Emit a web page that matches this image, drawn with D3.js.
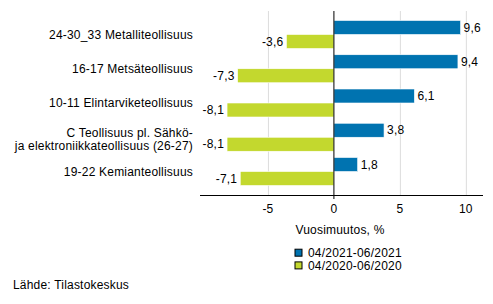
<!DOCTYPE html>
<html>
<head>
<meta charset="utf-8">
<script src="https://cdn.jsdelivr.net/npm/d3@7"></script>
<style>
  body { margin: 0; background: #fff; }
  text { font-family: "Liberation Sans", Arial, sans-serif; font-size: 12px; letter-spacing: 0.2px; fill: #000; }
</style>
</head>
<body>
<div id="canvas"></div>
<script>
const categories = [
  ["24-30_33 Metalliteollisuus"],
  ["16-17 Metsäteollisuus"],
  ["10-11 Elintarviketeollisuus"],
  ["C Teollisuus pl. Sähkö-", "ja elektroniikkateollisuus (26-27)"],
  ["19-22 Kemianteollisuus"]
];
const series2021 = [9.6, 9.4, 6.1, 3.8, 1.8];
const series2020 = [-3.6, -7.3, -8.1, -8.1, -7.1];
const seriesNames = ["04/2021-06/2021", "04/2020-06/2020"];
const colors = ["#0073b0", "#c3d82e"];
const tickValues = [-5, 0, 5, 10];

const width = 493, height = 304;
const svg = d3.select("#canvas").append("svg")
  .attr("width", width).attr("height", height);

const x = d3.scaleLinear().domain([-10.15, 11.3]).range([200, 483]);
const y = d3.scaleBand()
  .domain(d3.range(categories.length))
  .range([11, 195])
  .paddingInner(0.1825)
  .paddingOuter(0.277);
const sub = d3.scaleBand().domain([0, 1]).range([0, y.bandwidth()]);

const fmt = v => String(v.toFixed(1)).replace(".", ",");

// gridlines
svg.append("g").selectAll("line")
  .data(tickValues.filter(t => t !== 0))
  .enter().append("line")
  .attr("x1", d => x(d) + 0.5).attr("x2", d => x(d) + 0.5)
  .attr("y1", 11).attr("y2", 195)
  .attr("stroke", "#dcdcdc").attr("stroke-width", 1);

const rows = categories.map((c, i) => ({ i, vals: [series2021[i], series2020[i]] }));

const g = svg.append("g");
rows.forEach(r => {
  r.vals.forEach((v, s) => {
    const yy = y(r.i) + sub(s);
    g.append("rect")
      .attr("x", Math.min(x(0), x(v)))
      .attr("y", yy)
      .attr("width", Math.abs(x(v) - x(0)))
      .attr("height", sub.bandwidth())
      .attr("fill", colors[s])
      .attr("stroke", "#fff").attr("stroke-width", 0.6);
    g.append("text")
      .attr("x", v >= 0 ? x(v) + 3 : x(v) - 3)
      .attr("y", yy + sub.bandwidth() / 2)
      .attr("dy", "0.35em")
      .attr("text-anchor", v >= 0 ? "start" : "end")
      .text(fmt(v));
  });
});

// category labels
rows.forEach(r => {
  const lines = categories[r.i];
  const cy = y(r.i) + y.bandwidth() / 2 + (lines.length > 1 ? 2 : 0);
  const lh = 13.5;
  lines.forEach((l, k) => {
    svg.append("text")
      .attr("x", 193)
      .attr("y", cy + (k - (lines.length - 1) / 2) * lh)
      .attr("dy", "0.35em")
      .attr("text-anchor", "end")
      .text(l);
  });
});

// zero line and x axis
svg.append("line")
  .attr("x1", x(0)).attr("x2", x(0))
  .attr("y1", 11).attr("y2", 199)
  .attr("stroke", "#000").attr("stroke-width", 1);
svg.append("line")
  .attr("x1", 200).attr("x2", 483)
  .attr("y1", 195.5).attr("y2", 195.5)
  .attr("stroke", "#000").attr("stroke-width", 1);

svg.append("g").selectAll("text")
  .data(tickValues)
  .enter().append("text")
  .attr("x", d => x(d))
  .attr("y", 208.5)
  .attr("dy", "0.35em")
  .attr("text-anchor", "middle")
  .text(d => d);

svg.append("text")
  .attr("x", 340).attr("y", 229.5).attr("dy", "0.35em")
  .attr("text-anchor", "middle")
  .text("Vuosimuutos, %");

// legend
const leg = svg.append("g");
seriesNames.forEach((n, i) => {
  const ly = 252.7 + i * 12.7;
  leg.append("rect")
    .attr("x", 295).attr("y", ly - 3.5)
    .attr("width", 7).attr("height", 7)
    .attr("fill", colors[i]).attr("stroke", "#000").attr("stroke-width", 1);
  leg.append("text")
    .attr("x", 308).attr("y", ly).attr("dy", "0.35em")
    .text(n);
});

svg.append("text")
  .attr("x", 13).attr("y", 285).attr("dy", "0.35em")
  .text("Lähde: Tilastokeskus");
</script>
</body>
</html>
